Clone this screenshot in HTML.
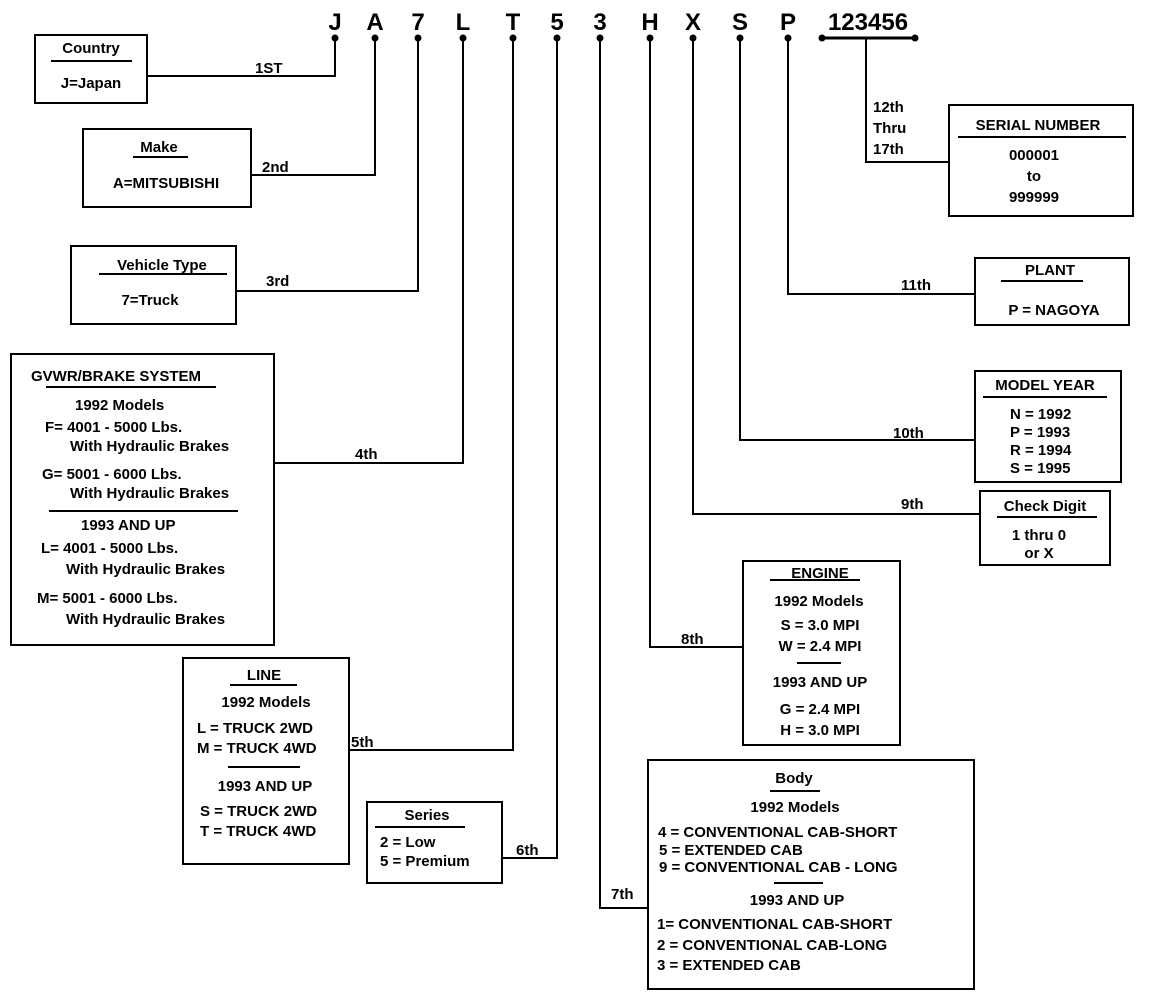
<!DOCTYPE html>
<html><head><meta charset="utf-8"><style>
html,body{margin:0;padding:0;background:#fff;}
svg{display:block;}
text{font-family:"Liberation Sans",Arial,sans-serif;font-weight:bold;font-size:15px;fill:#000;}
.big{font-size:24px;}
.m{text-anchor:middle;}
</style></head><body>
<svg width="1152" height="998" viewBox="0 0 1152 998" xmlns="http://www.w3.org/2000/svg">
<g fill="none" stroke="#000" stroke-width="2">
<!-- connectors -->
<polyline points="335,38 335,76 147,76"/>
<polyline points="375,38 375,175 251,175"/>
<polyline points="418,38 418,291 236,291"/>
<polyline points="463,38 463,463 275,463"/>
<polyline points="513,38 513,750 350,750"/>
<polyline points="557,38 557,858 502,858"/>
<polyline points="600,38 600,908 648,908"/>
<polyline points="650,38 650,647 743,647"/>
<polyline points="693,38 693,514 980,514"/>
<polyline points="740,38 740,440 975,440"/>
<polyline points="788,38 788,294 975,294"/>
<line x1="822" y1="38" x2="915" y2="38" stroke-width="3"/>
<polyline points="866,38 866,162 949,162"/>
<!-- boxes -->
<rect x="35" y="35" width="112" height="68"/>
<rect x="83" y="129" width="168" height="78"/>
<rect x="71" y="246" width="165" height="78"/>
<rect x="11" y="354" width="263" height="291"/>
<rect x="183" y="658" width="166" height="206"/>
<rect x="367" y="802" width="135" height="81"/>
<rect x="648" y="760" width="326" height="229"/>
<rect x="743" y="561" width="157" height="184"/>
<rect x="980" y="491" width="130" height="74"/>
<rect x="975" y="371" width="146" height="111"/>
<rect x="975" y="258" width="154" height="67"/>
<rect x="949" y="105" width="184" height="111"/>
<!-- underlines -->
<line x1="51" y1="61" x2="132" y2="61"/>
<line x1="133" y1="157" x2="188" y2="157"/>
<line x1="99" y1="274" x2="227" y2="274"/>
<line x1="46" y1="387" x2="216" y2="387"/>
<line x1="49" y1="511" x2="238" y2="511"/>
<line x1="230" y1="685" x2="297" y2="685"/>
<line x1="228" y1="767" x2="300" y2="767"/>
<line x1="375" y1="827" x2="465" y2="827"/>
<line x1="770" y1="580" x2="860" y2="580"/>
<line x1="797" y1="663" x2="841" y2="663"/>
<line x1="770" y1="791" x2="820" y2="791"/>
<line x1="774" y1="883" x2="823" y2="883"/>
<line x1="997" y1="517" x2="1097" y2="517"/>
<line x1="983" y1="397" x2="1107" y2="397"/>
<line x1="1001" y1="281" x2="1083" y2="281"/>
<line x1="958" y1="137" x2="1126" y2="137"/>
</g>
<g fill="#000">
<circle cx="335" cy="38" r="3.5"/><circle cx="375" cy="38" r="3.5"/><circle cx="418" cy="38" r="3.5"/>
<circle cx="463" cy="38" r="3.5"/><circle cx="513" cy="38" r="3.5"/><circle cx="557" cy="38" r="3.5"/>
<circle cx="600" cy="38" r="3.5"/><circle cx="650" cy="38" r="3.5"/><circle cx="693" cy="38" r="3.5"/>
<circle cx="740" cy="38" r="3.5"/><circle cx="788" cy="38" r="3.5"/>
<circle cx="822" cy="38" r="3.5"/><circle cx="915" cy="38" r="3.5"/>
</g>
<!-- VIN letters -->
<text class="big m" x="335" y="30">J</text>
<text class="big m" x="375" y="30">A</text>
<text class="big m" x="418" y="30">7</text>
<text class="big m" x="463" y="30">L</text>
<text class="big m" x="513" y="30">T</text>
<text class="big m" x="557" y="30">5</text>
<text class="big m" x="600" y="30">3</text>
<text class="big m" x="650" y="30">H</text>
<text class="big m" x="693" y="30">X</text>
<text class="big m" x="740" y="30">S</text>
<text class="big m" x="788" y="30">P</text>
<text class="big m" x="868" y="30">123456</text>
<!-- position labels -->
<text x="255" y="73">1ST</text>
<text x="262" y="172">2nd</text>
<text x="266" y="286">3rd</text>
<text x="355" y="459">4th</text>
<text x="351" y="747">5th</text>
<text x="516" y="855">6th</text>
<text x="611" y="899">7th</text>
<text x="681" y="644">8th</text>
<text x="901" y="509">9th</text>
<text x="893" y="438">10th</text>
<text x="901" y="290">11th</text>
<text x="873" y="112">12th</text>
<text x="873" y="133">Thru</text>
<text x="873" y="154">17th</text>
<!-- box texts -->
<text class="m" x="91" y="53">Country</text>
<text class="m" x="91" y="88">J=Japan</text>
<text class="m" x="159" y="152">Make</text>
<text class="m" x="166" y="188">A=MITSUBISHI</text>
<text class="m" x="162" y="270">Vehicle Type</text>
<text class="m" x="150" y="305">7=Truck</text>
<text x="31" y="381">GVWR/BRAKE SYSTEM</text>
<text x="75" y="410">1992 Models</text>
<text x="45" y="432">F= 4001 - 5000 Lbs.</text>
<text x="70" y="451">With Hydraulic Brakes</text>
<text x="42" y="479">G= 5001 - 6000 Lbs.</text>
<text x="70" y="498">With Hydraulic Brakes</text>
<text x="81" y="530">1993 AND UP</text>
<text x="41" y="553">L= 4001 - 5000 Lbs.</text>
<text x="66" y="574">With Hydraulic Brakes</text>
<text x="37" y="603">M= 5001 - 6000 Lbs.</text>
<text x="66" y="624">With Hydraulic Brakes</text>
<text class="m" x="264" y="680">LINE</text>
<text class="m" x="266" y="707">1992 Models</text>
<text x="197" y="733">L = TRUCK 2WD</text>
<text x="197" y="753">M = TRUCK 4WD</text>
<text class="m" x="265" y="791">1993 AND UP</text>
<text x="200" y="816">S = TRUCK 2WD</text>
<text x="200" y="836">T = TRUCK 4WD</text>
<text class="m" x="427" y="820">Series</text>
<text x="380" y="847">2 = Low</text>
<text x="380" y="866">5 = Premium</text>
<text class="m" x="820" y="578">ENGINE</text>
<text class="m" x="819" y="606">1992 Models</text>
<text class="m" x="820" y="630">S = 3.0 MPI</text>
<text class="m" x="820" y="651">W = 2.4 MPI</text>
<text class="m" x="820" y="687">1993 AND UP</text>
<text class="m" x="820" y="714">G = 2.4 MPI</text>
<text class="m" x="820" y="735">H = 3.0 MPI</text>
<text class="m" x="794" y="783">Body</text>
<text class="m" x="795" y="812">1992 Models</text>
<text x="658" y="837">4 = CONVENTIONAL CAB-SHORT</text>
<text x="659" y="855">5 = EXTENDED CAB</text>
<text x="659" y="872">9 = CONVENTIONAL CAB - LONG</text>
<text class="m" x="797" y="905">1993 AND UP</text>
<text x="657" y="929">1= CONVENTIONAL CAB-SHORT</text>
<text x="657" y="950">2 = CONVENTIONAL CAB-LONG</text>
<text x="657" y="970">3 = EXTENDED CAB</text>
<text class="m" x="1045" y="511">Check Digit</text>
<text class="m" x="1039" y="540">1 thru 0</text>
<text class="m" x="1039" y="558">or X</text>
<text class="m" x="1045" y="390">MODEL YEAR</text>
<text x="1010" y="419">N = 1992</text>
<text x="1010" y="437">P = 1993</text>
<text x="1010" y="455">R = 1994</text>
<text x="1010" y="473">S = 1995</text>
<text class="m" x="1050" y="275">PLANT</text>
<text class="m" x="1054" y="315">P = NAGOYA</text>
<text class="m" x="1038" y="130">SERIAL NUMBER</text>
<text class="m" x="1034" y="160">000001</text>
<text class="m" x="1034" y="181">to</text>
<text class="m" x="1034" y="202">999999</text>
</svg>
</body></html>
